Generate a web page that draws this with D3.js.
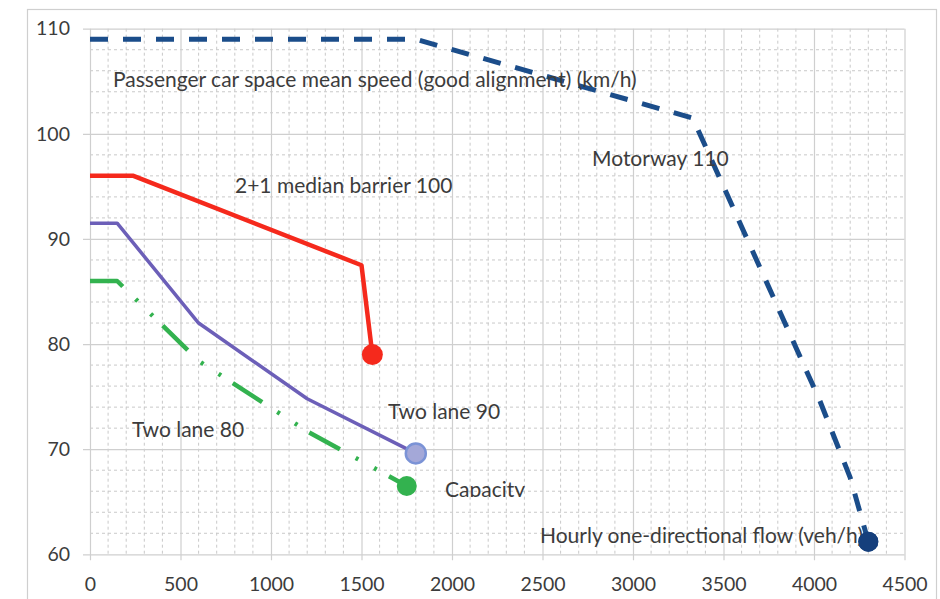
<!DOCTYPE html>
<html>
<head>
<meta charset="utf-8">
<script src="https://cdn.jsdelivr.net/npm/d3@7"></script>
<style>
  html, body { margin: 0; padding: 0; background: #fff; }
  svg { display: block; }
  text { font-family: Lato, "Open Sans", sans-serif; fill: #3c3c3c; }
</style>
</head>
<body>
<svg id="chart" width="940" height="599"></svg>
<script>
// ---- data ----
const xTickValues = [0, 500, 1000, 1500, 2000, 2500, 3000, 3500, 4000, 4500];
const yTickValues = [60, 70, 80, 90, 100, 110];

const motorwayFlow  = [0, 1800, 3330, 4030, 4200, 4300];
const motorwaySpeed = [109, 109, 101.5, 74.7, 67.3, 61.2];

const medianFlow  = [0, 240, 1500, 1560];
const medianSpeed = [96, 96, 87.5, 79.0];

const twoLane90Flow  = [0, 150, 600, 1200, 1800];
const twoLane90Speed = [91.5, 91.5, 82, 74.8, 69.6];

const twoLane80Flow  = [0, 150, 600, 1200, 1750];
const twoLane80Speed = [86, 86, 78.4, 71.7, 66.5];

const labels = [
  {text: "Passenger car space mean speed (good alignment) (km/h)", x: 113, y: 87},
  {text: "Motorway 110", x: 592, y: 166},
  {text: "2+1 median barrier 100", x: 235, y: 193},
  {text: "Two lane 90", x: 388, y: 419},
  {text: "Two lane 80", x: 132, y: 437},
  {text: "Capacity", x: 445, y: 497, clip: true},
  {text: "Hourly one-directional flow (veh/h)", x: 540, y: 543}
];

// ---- layout ----
const svg = d3.select("#chart");
const x = d3.scaleLinear().domain([0, 4500]).range([90, 904.5]);
const y = d3.scaleLinear().domain([60, 110]).range([554.3, 28.7]);

// outer frame
svg.append("rect").attr("x", 27.5).attr("y", 9.5).attr("width", 909).attr("height", 600)
  .attr("fill", "none").attr("stroke", "#cfcfcf").attr("stroke-width", 1.2);

// minor grid
const minorX = d3.range(0, 4501, 100).filter(v => v % 500 !== 0);
const minorY = d3.range(60, 110.1, 2).filter(v => v % 10 !== 0);
const grid = svg.append("g");
grid.selectAll(".mx").data(minorX).join("line")
  .attr("x1", d => x(d)).attr("x2", d => x(d)).attr("y1", y(110)).attr("y2", y(60))
  .attr("stroke", "#c9c9c9").attr("stroke-width", 1).attr("stroke-dasharray", "3,3");
grid.selectAll(".my").data(minorY).join("line")
  .attr("x1", x(0)).attr("x2", x(4500)).attr("y1", d => y(d)).attr("y2", d => y(d))
  .attr("stroke", "#c9c9c9").attr("stroke-width", 1).attr("stroke-dasharray", "3,3");

// axes with major gridlines
const xAxis = d3.axisBottom(x).tickValues(xTickValues).tickSize(y(60) - y(110) + 6).tickPadding(17).tickFormat(d3.format("d"));
const gx = svg.append("g").attr("transform", `translate(0,${y(110)})`).call(xAxis);
gx.select(".domain").remove();
gx.selectAll(".tick line").attr("stroke", "#cfcfcf").attr("stroke-width", 1.2);
gx.selectAll(".tick text").attr("font-size", 19.5).attr("fill", "#3c3c3c").attr("font-family", "Lato");

const yAxis = d3.axisLeft(y).tickValues(yTickValues).tickSize(x(4500) - x(0) + 7).tickPadding(13);
const gy = svg.append("g").attr("transform", `translate(${x(4500)},0)`).call(yAxis);
gy.select(".domain").remove();
gy.selectAll(".tick line").attr("stroke", "#cfcfcf").attr("stroke-width", 1.2);
gy.selectAll(".tick text").attr("font-size", 19.5).attr("fill", "#3c3c3c").attr("font-family", "Lato");

// series
const line = d3.line().x(d => x(d[0])).y(d => y(d[1]));
const series = [
  {flow: twoLane80Flow, speed: twoLane80Speed, color: "#33b24f", width: 4.5, dash: "35,18,3,18,3,14",
    dot: {r: 10, fill: "#33b24f", stroke: "none"}},
  {flow: twoLane90Flow, speed: twoLane90Speed, color: "#6c5fb8", width: 3.5, dash: null,
    dot: {r: 10, fill: "#a4a8d8", stroke: "#7b93d6"}},
  {flow: medianFlow, speed: medianSpeed, color: "#f5291c", width: 4.5, dash: null,
    dot: {r: 10.5, fill: "#f5291c", stroke: "none"}},
  {flow: motorwayFlow, speed: motorwaySpeed, color: "#1b4d8a", width: 5, dash: "18,15",
    dot: {r: 10, fill: "#153f7c", stroke: "none"}}
];
series.forEach(s => {
  const pts = s.flow.map((f, i) => [f, s.speed[i]]);
  svg.append("path").datum(pts).attr("d", line)
    .attr("fill", "none").attr("stroke", s.color).attr("stroke-width", s.width)
    .attr("stroke-linejoin", "round")
    .attr("stroke-dasharray", s.dash);
  const last = pts[pts.length - 1];
  svg.append("circle").attr("cx", x(last[0])).attr("cy", y(last[1])).attr("r", s.dot.r)
    .attr("fill", s.dot.fill).attr("stroke", s.dot.stroke).attr("stroke-width", 2.5);
});

// clip for truncated label
svg.append("clipPath").attr("id", "capclip").append("rect")
  .attr("x", 0).attr("y", 0).attr("width", 940).attr("height", 497);

// labels
labels.forEach(l => {
  const t = svg.append("text").attr("x", l.x).attr("y", l.y).attr("font-size", 21).text(l.text);
  if (l.clip) t.attr("clip-path", "url(#capclip)");
});
// the navy end dot sits over the flow label
svg.append("circle").attr("cx", x(motorwayFlow[motorwayFlow.length - 1])).attr("cy", y(motorwaySpeed[motorwaySpeed.length - 1]))
  .attr("r", 10).attr("fill", "#153f7c");
</script>
</body>
</html>
